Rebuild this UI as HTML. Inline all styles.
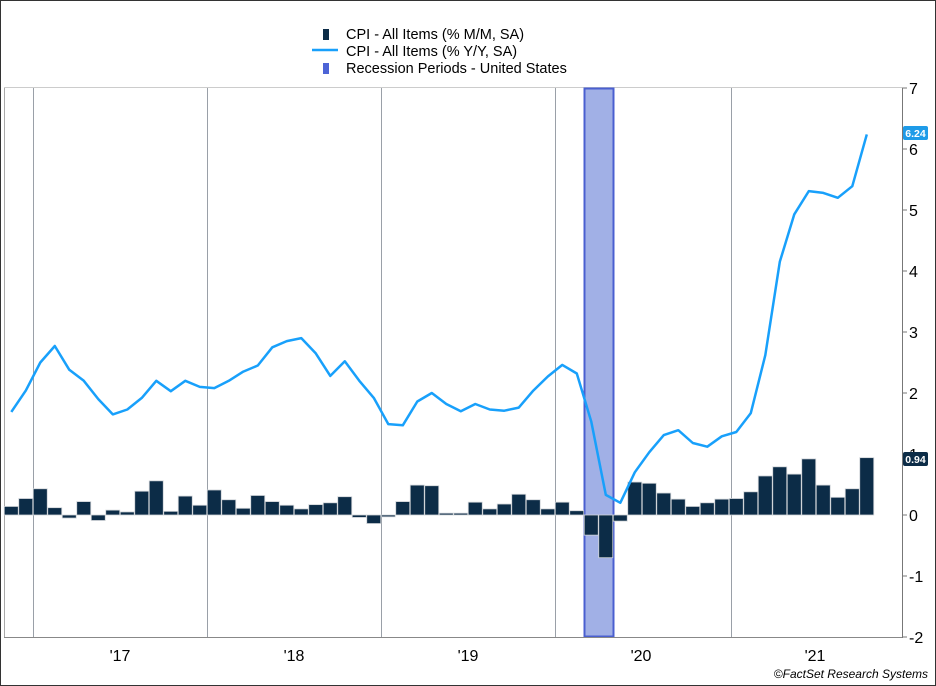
<!DOCTYPE html>
<html><head><meta charset="utf-8"><style>
html,body{margin:0;padding:0;background:#fff;}
svg{display:block;font-family:"Liberation Sans",Arial,sans-serif;}
</style></head><body>
<svg id="c" width="936" height="686" viewBox="0 0 936 686" xmlns="http://www.w3.org/2000/svg">
<rect x="0.5" y="0.5" width="935" height="685" fill="#fff" stroke="#333"/>
<g font-size="14.5" fill="#000">
<rect x="323" y="29" width="6" height="11" fill="#0c2c47"/>
<text x="346" y="39">CPI - All Items (% M/M, SA)</text>
<line x1="312" y1="50" x2="338" y2="50" stroke="#18a0fb" stroke-width="2.5"/>
<text x="346" y="56">CPI - All Items (% Y/Y, SA)</text>
<rect x="323" y="63" width="6" height="11" fill="#4d64d6"/>
<text x="346" y="73">Recession Periods - United States</text>
</g>
<line x1="4" y1="87.5" x2="902" y2="87.5" stroke="#ccc"/>
<line x1="4.5" y1="88" x2="4.5" y2="637" stroke="#aaa"/>
<g id="grid" stroke="#9aa0a8" stroke-width="1"></g>
<rect x="584.5" y="88.5" width="29" height="548" fill="#a1b0e6" stroke="#4a5fd0" stroke-width="2"/>
<g id="bars" fill="#0c2c47" stroke="#d0d4d8" stroke-width="0.8"></g>
<polyline id="ln" fill="none" stroke="#18a0fb" stroke-width="2.5" stroke-linejoin="round"/>
<line x1="4" y1="637.5" x2="902" y2="637.5" stroke="#888"/>
<line x1="902.5" y1="88" x2="902.5" y2="638" stroke="#777"/>
<g id="ax" font-size="16" fill="#000"></g>
<rect x="903" y="126" width="25" height="14" rx="2" fill="#1e9be8"/>
<text x="915.5" y="137" font-size="10.5" font-weight="bold" fill="#fff" text-anchor="middle">6.24</text>
<rect x="903" y="452" width="25" height="14" rx="2" fill="#0c2c47"/>
<text x="915.5" y="463" font-size="10.5" font-weight="bold" fill="#fff" text-anchor="middle">0.94</text>
<text x="928" y="678" font-size="12" font-style="italic" text-anchor="end" fill="#000">©FactSet Research Systems</text>
</svg>
<script>
var NS="http://www.w3.org/2000/svg";
function el(p,t,a,txt){var e=document.createElementNS(NS,t);for(var k in a)e.setAttribute(k,a[k]);if(txt!=null)e.textContent=txt;document.getElementById(p).appendChild(e);return e;}
var Y=function(v){return 515-61*v;};
[33,207,381,555,731].forEach(function(x){el("grid","line",{x1:x+0.5,y1:88,x2:x+0.5,y2:637});});
var m=[0.14,0.27,0.43,0.12,-0.05,0.22,-0.09,0.08,0.05,0.39,0.56,0.06,0.31,0.16,0.41,0.25,0.11,0.32,0.22,0.16,0.10,0.17,0.20,0.30,-0.04,-0.14,-0.03,0.22,0.49,0.48,0.03,0.03,0.21,0.10,0.18,0.34,0.25,0.10,0.21,0.07,-0.33,-0.70,-0.10,0.54,0.52,0.36,0.26,0.14,0.20,0.26,0.27,0.38,0.64,0.79,0.67,0.92,0.49,0.29,0.43,0.94];
var y=[1.69,2.04,2.5,2.77,2.38,2.2,1.9,1.65,1.73,1.92,2.2,2.03,2.2,2.1,2.08,2.2,2.35,2.45,2.75,2.85,2.9,2.65,2.28,2.52,2.2,1.92,1.49,1.47,1.86,2.0,1.82,1.7,1.82,1.73,1.71,1.76,2.04,2.27,2.46,2.32,1.53,0.33,0.2,0.7,1.03,1.31,1.39,1.18,1.12,1.29,1.36,1.67,2.62,4.15,4.93,5.31,5.28,5.2,5.39,6.24];
var pts=[];
for(var i=0;i<60;i++){var cx=11.25+14.5*i;var v=m[i];var t=Math.min(Y(v),515),h=Math.abs(61*v);
el("bars","rect",{x:cx-7,y:t,width:14,height:Math.max(h,1.5)});
pts.push(cx.toFixed(1)+","+Y(y[i]).toFixed(1));}
document.getElementById("ln").setAttribute("points",pts.join(" "));
for(var v=-2;v<=7;v++){var yy=Y(v);el("ax","line",{x1:902,y1:yy,x2:907,y2:yy,stroke:"#777"});
el("ax","text",{x:909,y:yy+6},String(v));}
[["'17",120],["'18",294],["'19",468],["'20",641],["'21",815]].forEach(function(a){el("ax","text",{x:a[1],y:661,"text-anchor":"middle"},a[0]);});
</script>
</body></html>
